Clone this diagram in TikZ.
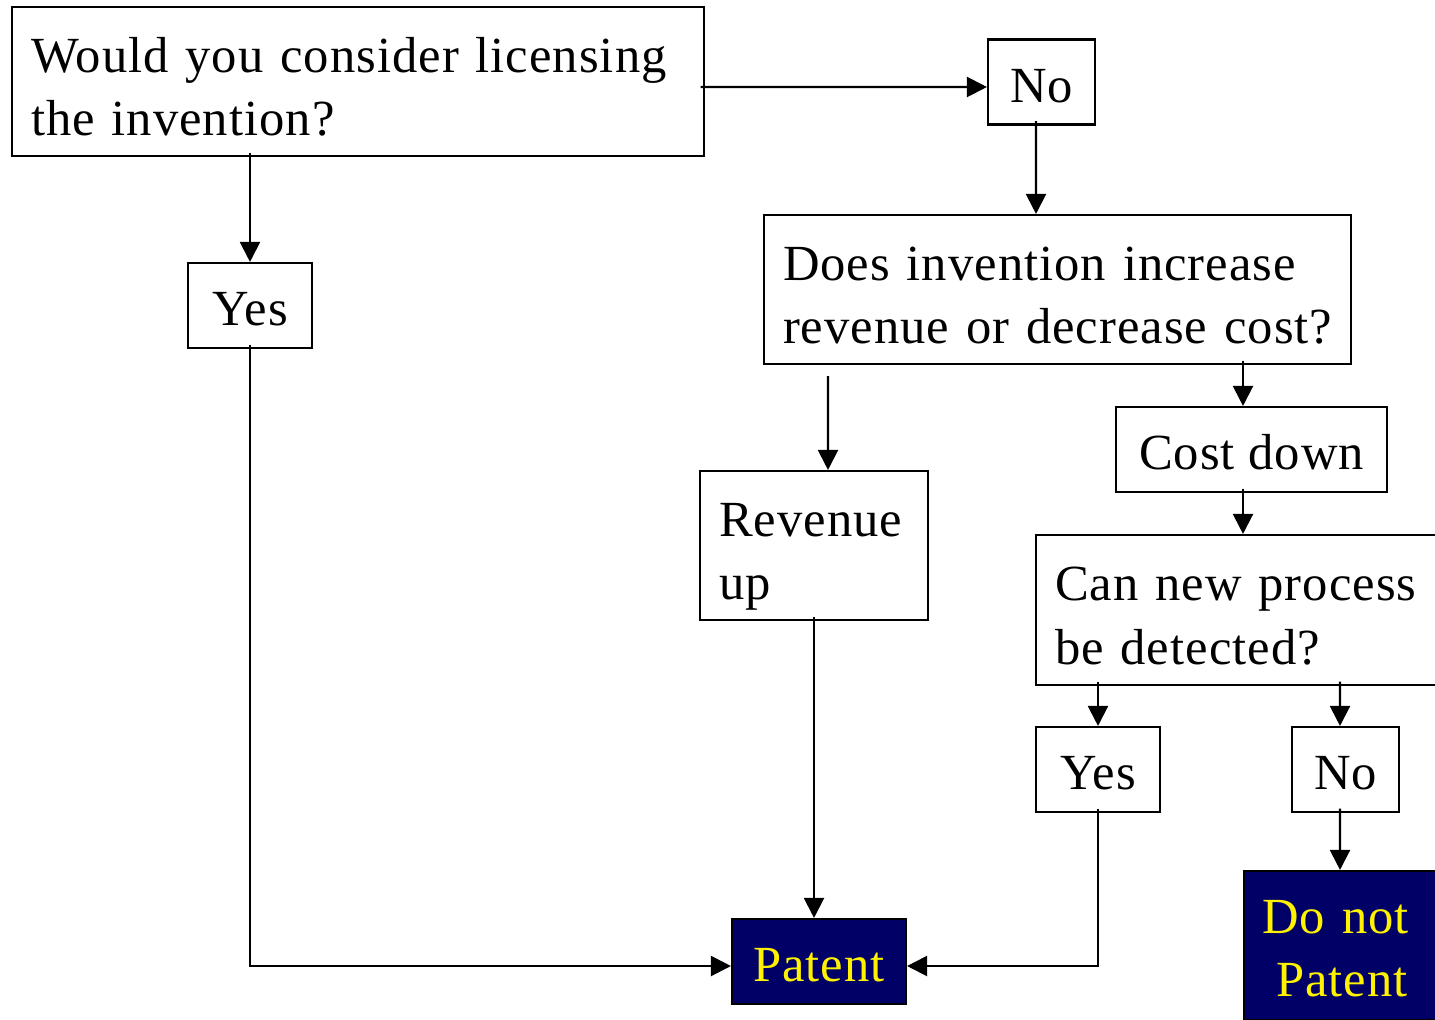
\documentclass[tikz,border=0pt]{standalone}
\usepackage{fontspec}
\setmainfont{Liberation Serif}[LetterSpace=2]
\usepackage{xcolor}
\definecolor{navy}{RGB}{0,0,102}
\usetikzlibrary{arrows.meta}

\begin{document}
\begin{tikzpicture}[
  box/.style={draw, line width=0.6pt, inner xsep=0.19cm, inner ysep=0pt, font=\fontsize{14.4}{18.2}\selectfont},
  q/.style={box, align=left, text height=0.55cm, text depth=0.74cm, minimum height=1.49cm},
  ans/.style={box, text height=0.5cm, text depth=0.1cm, minimum height=0.85cm},
  res/.style={fill=navy, text=yellow},
  arr/.style={line width=0.6pt, -{Triangle[length=2mm, width=2mm]}, shorten <=-0.45mm}
]
\useasboundingbox (0,0) rectangle (14.35,-10.19);
\clip (0,0) rectangle (14.35,-10.19);

% Questions
\node[q, text width=6.54cm] (ask)    at (3.58,-0.815)  {Would you consider licensing\\the invention?};
\node[q, text width=5.49cm] (does)   at (10.575,-2.895) {Does invention increase\\revenue or decrease cost?};
\node[q, text width=1.90cm] (revup)  at (8.14,-5.455)  {Revenue\\up};
\node[q, text width=3.76cm, minimum height=1.50cm] (detect) at (12.43,-6.10) {Can new process\\be detected?};

% Answers
\node[ans, minimum width=1.07cm] (no1)  at (10.415,-0.82) {No};
\node[ans, minimum width=1.24cm] (yes1) at (2.50,-3.055)  {Yes};
\node[ans, minimum width=2.71cm] (cost) at (12.515,-4.495) {Cost down};
\node[ans, minimum width=1.24cm] (yes2) at (10.98,-7.695) {Yes};
\node[ans, minimum width=1.07cm] (no2)  at (13.455,-7.695) {No};

% Results
\node[ans, res, minimum width=1.74cm] (patent) at (8.19,-9.615) {Patent};
\node[box, res, align=center, text width=1.66cm, inner xsep=0.15cm, text height=0.49cm, text depth=0.74cm, minimum height=1.49cm] (donot) at (13.42,-9.455) {Do not\kern1.3mm\\Patent};

% Licensing
\draw[arr] ([yshift=-0.55mm]ask.east) -- ([yshift=-0.5mm]no1.west);
\draw[arr] ([xshift=-0.55mm]no1.south) -- ([xshift=-2.15mm]does.north);
\draw[arr] (yes1.north |- ask.south) -- (yes1.north);
\draw[arr] (yes1.south) |- ([yshift=-0.45mm]patent.west);

% Revenue or cost
\draw[arr, shorten <=1.1mm] ([xshift=-22.95mm]does.south) -- ([xshift=1.4mm]revup.north);
\draw[arr] (does.south -| detect.north) -- (cost.north -| detect.north);
\draw[arr] (cost.south -| detect.north) -- (detect.north);
\draw[arr] (revup.south) -- (revup.south |- patent.north);

% Detection
\draw[arr] (yes2.north |- detect.south) -- (yes2.north);
\draw[arr] ([xshift=9.7mm]detect.south) -- ([xshift=-0.55mm]no2.north);
\draw[arr] (yes2.south) |- ([yshift=-0.45mm]patent.east);
\draw[arr] ([xshift=-0.55mm]no2.south) -- ([xshift=-0.2mm]donot.north);

\end{tikzpicture}
\end{document}
